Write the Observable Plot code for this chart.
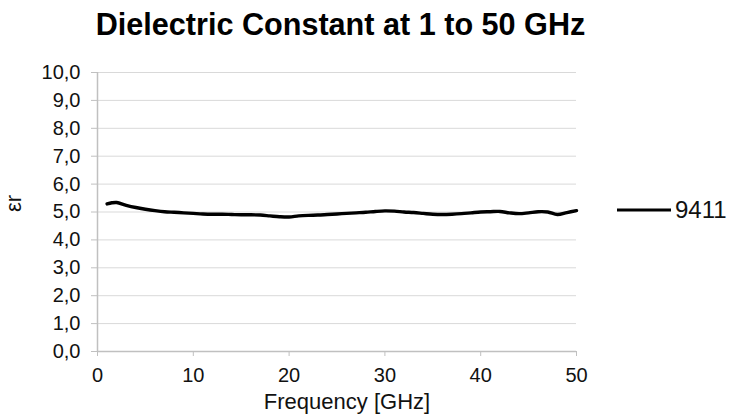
<!DOCTYPE html>
<html>
<head>
<meta charset="utf-8">
<script src="https://cdn.jsdelivr.net/npm/d3@7"></script>
<script src="https://cdn.jsdelivr.net/npm/@observablehq/plot@0.6"></script>
<style>
  html, body { margin: 0; padding: 0; background: #fff; }
  #wrap { position: relative; width: 734px; height: 416px; font-family: "Liberation Sans", Arial, sans-serif; }
  #legend { position: absolute; left: 617px; top: 196px; height: 28px; display: flex; align-items: center; font-size: 24px; color: #111; }
  #legend span { margin-left: 4px; }
</style>
</head>
<body>
<div id="wrap">
  <div id="chart"></div>
  <div id="legend"><svg width="54" height="6"><line x1="0" y1="3" x2="54" y2="3" stroke="#000" stroke-width="3.2"/></svg><span>9411</span></div>
</div>
<script>
const title = "Dielectric Constant at 1 to 50 GHz";
const xLabel = "Frequency [GHz]";
const yLabel = "εr";
const seriesName = "9411";
const freq = [1,1.5,2,3,4,5,6,7,8,9,10,11,12,13,14,15,16,17,18,19,20,21,22,23,24,25,26,27,28,29,30,31,32,33,34,35,36,37,38,39,40,41,42,43,44,45,46,47,48,49,50];
const eps = [5.29,5.33,5.34,5.24,5.16,5.10,5.05,5.01,4.99,4.97,4.95,4.93,4.92,4.92,4.91,4.90,4.90,4.89,4.86,4.83,4.82,4.86,4.88,4.89,4.91,4.93,4.95,4.97,4.99,5.02,5.04,5.03,5.00,4.98,4.95,4.92,4.91,4.92,4.94,4.97,5.00,5.01,5.02,4.97,4.94,4.97,5.01,5.00,4.91,4.98,5.05];
const xTicks = [0,10,20,30,40,50];
const yTicks = [0,1,2,3,4,5,6,7,8,9,10];

const data = freq.map((f, i) => ({f, e: eps[i]}));

const chart = Plot.plot({
  width: 734,
  height: 416,
  marginTop: 72,
  marginBottom: 65,
  marginLeft: 97,
  marginRight: 158,
  style: {fontFamily: "Liberation Sans, Arial, sans-serif", fontSize: "20px", color: "#111", background: "#fff"},
  x: {domain: [0, 50], ticks: xTicks, label: null},
  y: {domain: [0, 10], ticks: yTicks, label: null},
  marks: [
    Plot.gridY(yTicks.filter(d => d > 0), {stroke: "#d9d9d9", strokeOpacity: 1, strokeWidth: 1}),
    Plot.ruleY([0], {stroke: "#c0c0c0", strokeWidth: 1.5}),
    Plot.ruleX([0], {stroke: "#c0c0c0", strokeWidth: 1.5}),
    Plot.axisX({ticks: xTicks, tickSize: 5, tickPadding: 11, stroke: "#c0c0c0", tickFormat: d => String(d), fontSize: 20, label: null}),
    Plot.axisY({ticks: yTicks, tickSize: 6, tickPadding: 11, stroke: "#c0c0c0", tickFormat: d => d.toFixed(1).replace(".", ","), fontSize: 20, label: null}),
    Plot.line(data, {x: "f", y: "e", stroke: "#000", strokeWidth: 3.4, curve: "catmull-rom"}),
    Plot.text([title], {frameAnchor: "top", lineAnchor: "middle", dy: -47, dx: 3.5, fontSize: 30.6, fontWeight: "bold", fill: "#000"}),
    Plot.text([xLabel], {frameAnchor: "bottom", lineAnchor: "middle", dy: 50, dx: 10, fontSize: 22, fill: "#111"}),
    Plot.text([yLabel], {frameAnchor: "left", dx: -84, rotate: -90, fontSize: 22, fill: "#111"})
  ]
});
document.getElementById("chart").appendChild(chart);
</script>
</body>
</html>
